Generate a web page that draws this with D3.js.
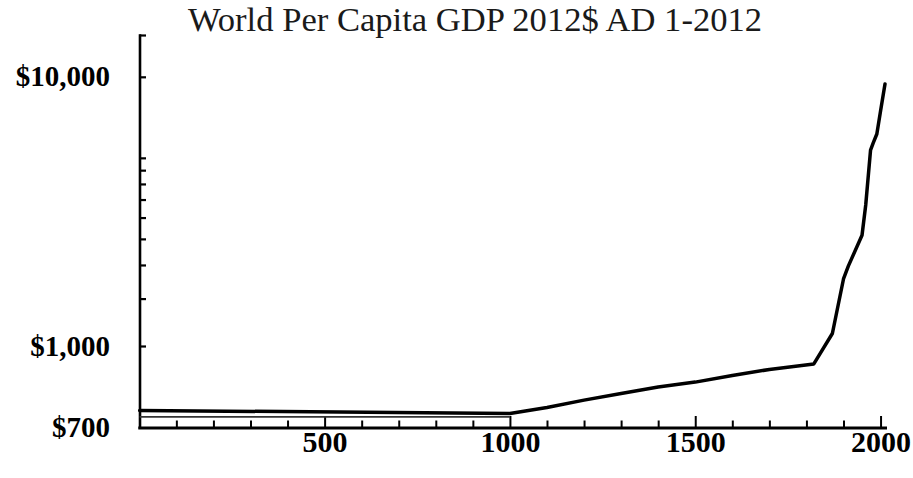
<!DOCTYPE html>
<html>
<head>
<meta charset="utf-8">
<script src="https://cdn.jsdelivr.net/npm/d3@7"></script>
<style>
  html, body { margin: 0; padding: 0; background: #fff; }
  svg { display: block; }
  text { font-family: "Liberation Serif", "Times New Roman", serif; }
</style>
</head>
<body>
<script>
// World GDP per capita (2012 dollars), AD 1 to 2012
const years = [1, 1000, 1100, 1200, 1300, 1400, 1500, 1600, 1700, 1820, 1870, 1900, 1913, 1950, 1960, 1973, 1980, 1990, 2000, 2012];
const gdp   = [753, 743, 763, 788, 811, 835, 853, 878, 902, 924, 1113, 1774, 1980, 2580, 3340, 5340, 5670, 6130, 7460, 9400];

// secondary flat estimate for the first millennium
const earlyYears = [1, 1000];
const earlyGdp   = [732, 732];

// axis ticks and labels
const yLabelValues = [700, 1000, 10000];
const yLabels      = ["$700", "$1,000", "$10,000"];
const yTickValues  = [1000, 1500, 2000, 2500, 3000, 3500, 4000, 4500, 5000, 10000, 14300];
const xLabelValues = [500, 1000, 1500, 2000];
const xMinorValues = d3.range(100, 2001, 100).filter(v => v % 500 !== 0);

const title = "World Per Capita GDP 2012$ AD 1-2012";

const W = 913, H = 478;
const svg = d3.select("body").append("svg").attr("width", W).attr("height", H);

const x = d3.scaleLinear().domain([0, 2012]).range([139.3, 885]);
// log axis, piecewise so the bottom edge reads $700
const y = d3.scaleLog().domain([700, 1000, 14300]).range([427, 346, 35]);

// title
svg.append("text")
  .attr("x", 475).attr("y", 31)
  .attr("text-anchor", "middle")
  .attr("font-size", 34.6)
  .attr("fill", "#1a1a1a")
  .text(title);

// y axis
const gy = svg.append("g").attr("transform", "translate(139.5,0)")
  .call(d3.axisLeft(y).tickValues(yTickValues).tickSizeInner(-6.5).tickSizeOuter(0).tickFormat(""));
gy.select(".domain").attr("stroke", "#000").attr("stroke-width", 2.6).attr("stroke-linecap", "square");
gy.selectAll(".tick line").attr("stroke", "#000").attr("stroke-width", 2.2);

svg.append("g").selectAll("text")
  .data(yLabelValues)
  .join("text")
  .attr("x", 110)
  .attr("y", d => y(d))
  .attr("dy", "0.33em")
  .attr("text-anchor", "end")
  .attr("font-size", 29)
  .attr("font-weight", "bold")
  .attr("fill", "#000")
  .text((d, i) => yLabels[i]);

// x axis: minor ticks
const gxMinor = svg.append("g").attr("transform", "translate(0,427.5)")
  .call(d3.axisBottom(x).tickValues(xMinorValues).tickSizeInner(-7).tickSizeOuter(0).tickFormat(""));
gxMinor.select(".domain").attr("stroke", "#000").attr("stroke-width", 3).attr("stroke-linecap", "square");
gxMinor.selectAll(".tick line").attr("stroke", "#000").attr("stroke-width", 2);

// x axis: labelled ticks
const gx = svg.append("g").attr("transform", "translate(0,427.5)")
  .call(d3.axisBottom(x).tickValues(xLabelValues).tickSizeInner(-11.5).tickSizeOuter(0).tickPadding(3).tickFormat(d3.format("d")));
gx.select(".domain").remove();
gx.selectAll(".tick line").attr("stroke", "#000").attr("stroke-width", 2);
gx.selectAll(".tick text")
  .attr("font-family", "'Liberation Serif', 'Times New Roman', serif")
  .attr("font-size", 30)
  .attr("font-weight", "bold")
  .attr("fill", "#000");

// data lines
const line = d3.line().x(d => x(d[0])).y(d => y(d[1]));

svg.append("path")
  .datum(d3.zip(earlyYears, earlyGdp))
  .attr("fill", "none")
  .attr("stroke", "#333")
  .attr("stroke-width", 1.6)
  .attr("d", line);

svg.append("path")
  .datum(d3.zip(years, gdp))
  .attr("fill", "none")
  .attr("stroke", "#000")
  .attr("stroke-width", 3.5)
  .attr("stroke-linejoin", "round")
  .attr("stroke-linecap", "round")
  .attr("d", line);
</script>
</body>
</html>
